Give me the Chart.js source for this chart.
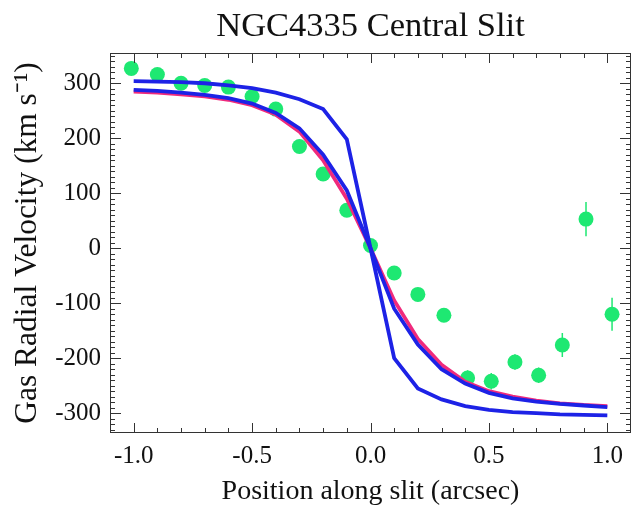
<!DOCTYPE html>
<html>
<head>
<meta charset="utf-8">
<script src="https://cdn.jsdelivr.net/npm/chart.js@4"></script>
<style>
html, body { margin: 0; padding: 0; background: #fff; }
#box { width: 632px; height: 508px; }
</style>
</head>
<body>
<div id="box"><canvas id="rvChart" width="632" height="508"></canvas></div>
<script>
// measured gas velocities along the slit
const positions = [-1.01, -0.9, -0.8, -0.7, -0.6, -0.5, -0.4, -0.3, -0.2, -0.1, 0.0,
  0.1, 0.2, 0.31, 0.41, 0.51, 0.61, 0.71, 0.81, 0.91, 1.02];
const velocities = [327, 316, 300, 296, 293, 276, 253, 185, 135, 69, 5,
  -45, -84, -122, -236, -242, -207, -231, -176, 53, -120];
const velErrors = [8, 8, 8, 8, 8, 8, 10, 10, 10, 10, 10,
  10, 10, 10, 14, 15, 14, 14, 22, 31, 30];

// model curves
const modelX = [-1.0, -0.9, -0.8, -0.7, -0.6, -0.5, -0.4, -0.3, -0.2, -0.1, 0.0,
  0.1, 0.2, 0.3, 0.4, 0.5, 0.6, 0.7, 0.8, 0.9, 1.0];
const modelPink = [285, 283, 280, 276, 270, 260, 243, 212, 160, 90, 0,
  -95, -165, -212, -243, -260, -270, -277, -282, -285, -287];
const modelSmooth = [288, 286, 283, 279, 273, 263, 246, 218, 170, 105, 0,
  -110, -175, -220, -246, -263, -273, -279, -283, -286, -289];
const modelSteep = [304, 303, 302, 300, 296, 291, 283, 271, 253, 198, 0,
  -200, -255, -275, -287, -294, -298, -300, -302, -303, -304];

const xTickValues = [-1.0, -0.5, 0.0, 0.5, 1.0];
const yTickValues = [-300, -200, -100, 0, 100, 200, 300];

const serif = "'Liberation Serif', 'Times New Roman', serif";
const green = "#1ee872";
const blue = "#1d22e6";
const pink = "#f02a7c";

function pairs(xs, ys) {
  return xs.map((x, i) => ({ x: x, y: ys[i] }));
}

const errorBars = {
  id: "errorBars",
  beforeDatasetsDraw(chart) {
    const { ctx, scales: { x, y } } = chart;
    ctx.save();
    ctx.strokeStyle = green;
    ctx.lineWidth = 1.5;
    ctx.beginPath();
    positions.forEach((p, i) => {
      const px = x.getPixelForValue(p);
      ctx.moveTo(px, y.getPixelForValue(velocities[i] + velErrors[i]));
      ctx.lineTo(px, y.getPixelForValue(velocities[i] - velErrors[i]));
    });
    ctx.stroke();
    ctx.restore();
  }
};

// box frame with inward ticks on all four sides
const frameTicks = {
  id: "frameTicks",
  afterDatasetsDraw(chart) {
    const { ctx, chartArea: a, scales: { x, y } } = chart;
    ctx.save();
    ctx.strokeStyle = "#333";
    ctx.lineWidth = 1;
    ctx.strokeRect(a.left + 0.5, a.top + 0.5, a.right - a.left - 1, a.bottom - a.top - 1);
    ctx.beginPath();
    for (let i = -10; i <= 10; i++) {
      const px = Math.round(x.getPixelForValue(i / 10)) + 0.5;
      const len = i % 5 === 0 ? 10 : 5;
      ctx.moveTo(px, a.bottom); ctx.lineTo(px, a.bottom - len);
      ctx.moveTo(px, a.top); ctx.lineTo(px, a.top + len);
    }
    for (let v = -330; v <= 350; v += 10) {
      const py = Math.round(y.getPixelForValue(v)) + 0.5;
      const len = v % 100 === 0 ? 11 : 5;
      ctx.moveTo(a.left, py); ctx.lineTo(a.left + len, py);
      ctx.moveTo(a.right, py); ctx.lineTo(a.right - len, py);
    }
    ctx.stroke();
    ctx.restore();
  }
};

function noPad(s) {
  s.paddingLeft = 0;
  s.paddingRight = 0;
  s.paddingTop = 0;
  s.paddingBottom = 0;
}

const ctx = document.getElementById("rvChart").getContext("2d");

new Chart(ctx, {
  type: "scatter",
  data: {
    datasets: [
      {
        label: "Steep model",
        type: "line",
        data: pairs(modelX, modelSteep),
        borderColor: blue,
        borderWidth: 3.8,
        pointRadius: 0,
        fill: false,
        order: 0
      },
      {
        label: "Smooth model",
        type: "line",
        data: pairs(modelX, modelSmooth),
        borderColor: blue,
        borderWidth: 3.8,
        pointRadius: 0,
        fill: false,
        order: 1
      },
      {
        label: "Pink model",
        type: "line",
        data: pairs(modelX, modelPink),
        borderColor: pink,
        borderWidth: 3.8,
        pointRadius: 0,
        fill: false,
        order: 2
      },
      {
        label: "Data",
        data: pairs(positions, velocities),
        backgroundColor: green,
        borderWidth: 0,
        pointRadius: 7.5,
        order: 3
      }
    ]
  },
  options: {
    responsive: false,
    animation: false,
    layout: { autoPadding: false, padding: { left: 0, right: 1, top: 0, bottom: 0 } },
    plugins: {
      legend: { display: false },
      tooltip: { enabled: false },
      title: { display: false }
    },
    scales: {
      x: {
        type: "linear",
        min: -1.1,
        max: 1.1,
        grid: { display: false, drawTicks: false },
        border: { display: false },
        afterBuildTicks: s => { s.ticks = xTickValues.map(v => ({ value: v })); },
        afterFit: s => { s.height = 75; noPad(s); },
        ticks: {
          color: "#111",
          padding: 8,
          font: { family: serif, size: 25 },
          callback: v => v.toFixed(1)
        },
        title: {
          display: true,
          text: "Position along slit (arcsec)",
          color: "#111",
          font: { family: serif, size: 28 },
          padding: { top: 0, bottom: 0 }
        }
      },
      // top axis only carries the chart title, centred over the plot
      xTop: {
        type: "linear",
        position: "top",
        min: -1.1,
        max: 1.1,
        grid: { display: false, drawTicks: false },
        border: { display: false },
        ticks: { display: false },
        afterFit: s => { s.height = 53; noPad(s); },
        title: {
          display: true,
          text: "NGC4335 Central Slit",
          color: "#111",
          font: { family: serif, size: 34.5 },
          padding: { top: 6, bottom: 0 }
        }
      },
      y: {
        type: "linear",
        min: -336,
        max: 355,
        grid: { display: false, drawTicks: false },
        border: { display: false },
        afterBuildTicks: s => { s.ticks = yTickValues.map(v => ({ value: v })); },
        afterFit: s => { s.width = 110; noPad(s); },
        ticks: {
          color: "#111",
          padding: 9,
          font: { family: serif, size: 25 },
          callback: v => String(v)
        },
        title: {
          display: true,
          text: "Gas Radial Velocity (km s\u207B\u00B9)",
          color: "#111",
          font: { family: serif, size: 31.5 },
          padding: { top: 9, bottom: 0 }
        }
      }
    }
  },
  plugins: [errorBars, frameTicks]
});
</script>
</body>
</html>
